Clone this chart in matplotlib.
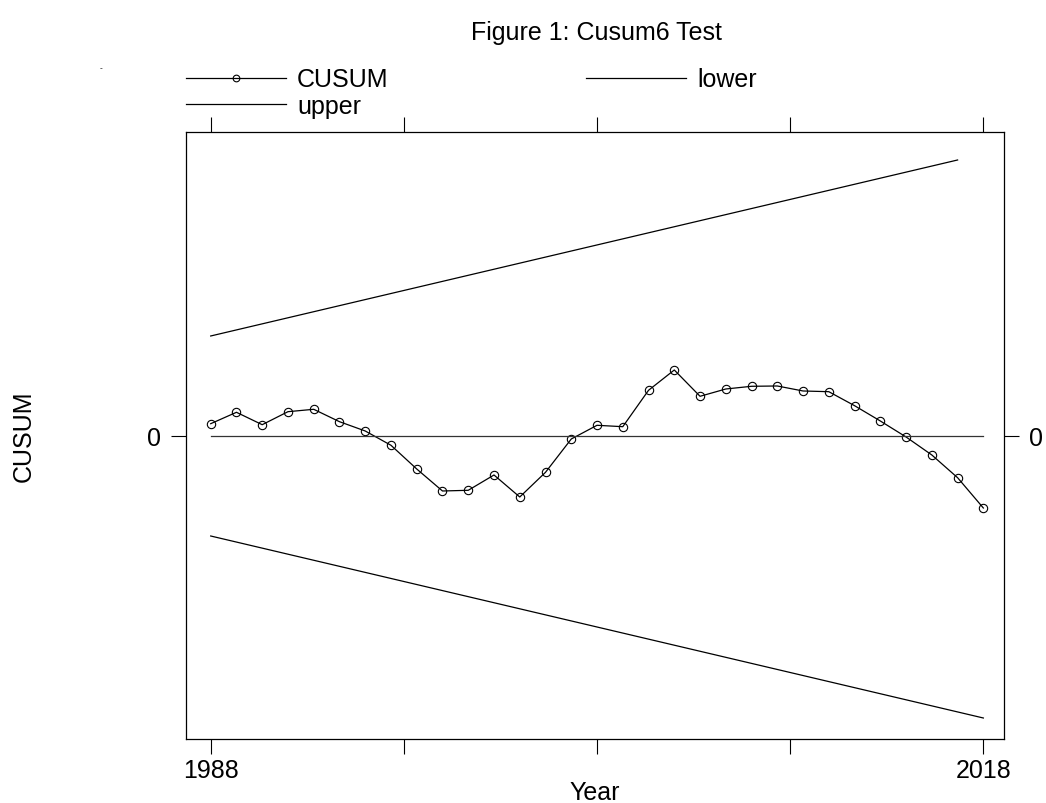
import matplotlib.pyplot as plt
from matplotlib.ticker import FixedLocator

plt.rcParams['font.family'] = ['Liberation Sans', 'DejaVu Sans']

# data (y in arbitrary units, 0 = reference line)
years = list(range(1988, 2019))
cusum = [1.23, 2.37, 1.13, 2.43, 2.67, 1.43, 0.50, -0.93, -3.30, -5.50,
         -5.43, -3.90, -6.10, -3.63, -0.30, 1.07, 0.93, 4.57, 6.60, 3.97,
         4.70, 4.97, 5.00, 4.50, 4.43, 3.03, 1.50, -0.10, -1.90, -4.17,
         -7.20]
upper_years = [1988, 2017]
upper = [10.0, 27.6]
lower_years = [1988, 2018]
lower = [-10.0, -28.2]
zero_years = [1988, 2018]
zero = [0, 0]

xticks = [1988, 1995.5, 2003, 2010.5, 2018]
xlabels = ['1988', '', '', '', '2018']

fs = 18
fig = plt.figure(figsize=(10.46, 8.04), dpi=100)
ax = fig.add_axes([0.1778, 0.0796, 0.7820, 0.7550])

lw = 0.9
l1, = ax.plot(years, cusum, '-', color='black', lw=lw, marker='o',
              markersize=6, markerfacecolor='none', markeredgewidth=0.8,
              label='CUSUM')
l2, = ax.plot(lower_years, lower, '-', color='black', lw=lw, label='lower')
l3, = ax.plot(upper_years, upper, '-', color='black', lw=lw, label='upper')
ax.plot(zero_years, zero, '-', color='#333333', lw=lw)

ax.set_xlim(1987.04, 2018.8)
ax.set_ylim(-30.3, 30.4)

ax.xaxis.set_major_locator(FixedLocator(xticks))
ax.set_xticklabels(xlabels)
ax.set_yticks([0])
ax.set_yticklabels(['0'])
ax.tick_params(axis='both', direction='out', length=11, width=0.8,
               labelsize=fs, pad=3, top=True, right=True, labelright=True)
ax.tick_params(axis='y', pad=7)
for s in ax.spines.values():
    s.set_linewidth(0.9)

ax.set_xlabel('Year', fontsize=fs, labelpad=-2)
ax.set_ylabel('CUSUM', fontsize=fs, labelpad=80)

fig.text(0.5698, 0.9590, 'Figure 1: Cusum6 Test', ha='center', va='center',
         fontsize=fs)
fig.text(0.097, 0.914, '-', ha='center', va='center', fontsize=6)

fig.legend([l1, l3, l2], ['CUSUM', 'upper', 'lower'], ncol=2,
           loc='upper left', bbox_to_anchor=(0.1778, 0.915),
           frameon=False, fontsize=fs, handlelength=4.0,
           handletextpad=0.45, columnspacing=7.9, labelspacing=0.1,
           borderpad=0, borderaxespad=0, markerscale=0.8)

fig.savefig('out.png', dpi=100)
